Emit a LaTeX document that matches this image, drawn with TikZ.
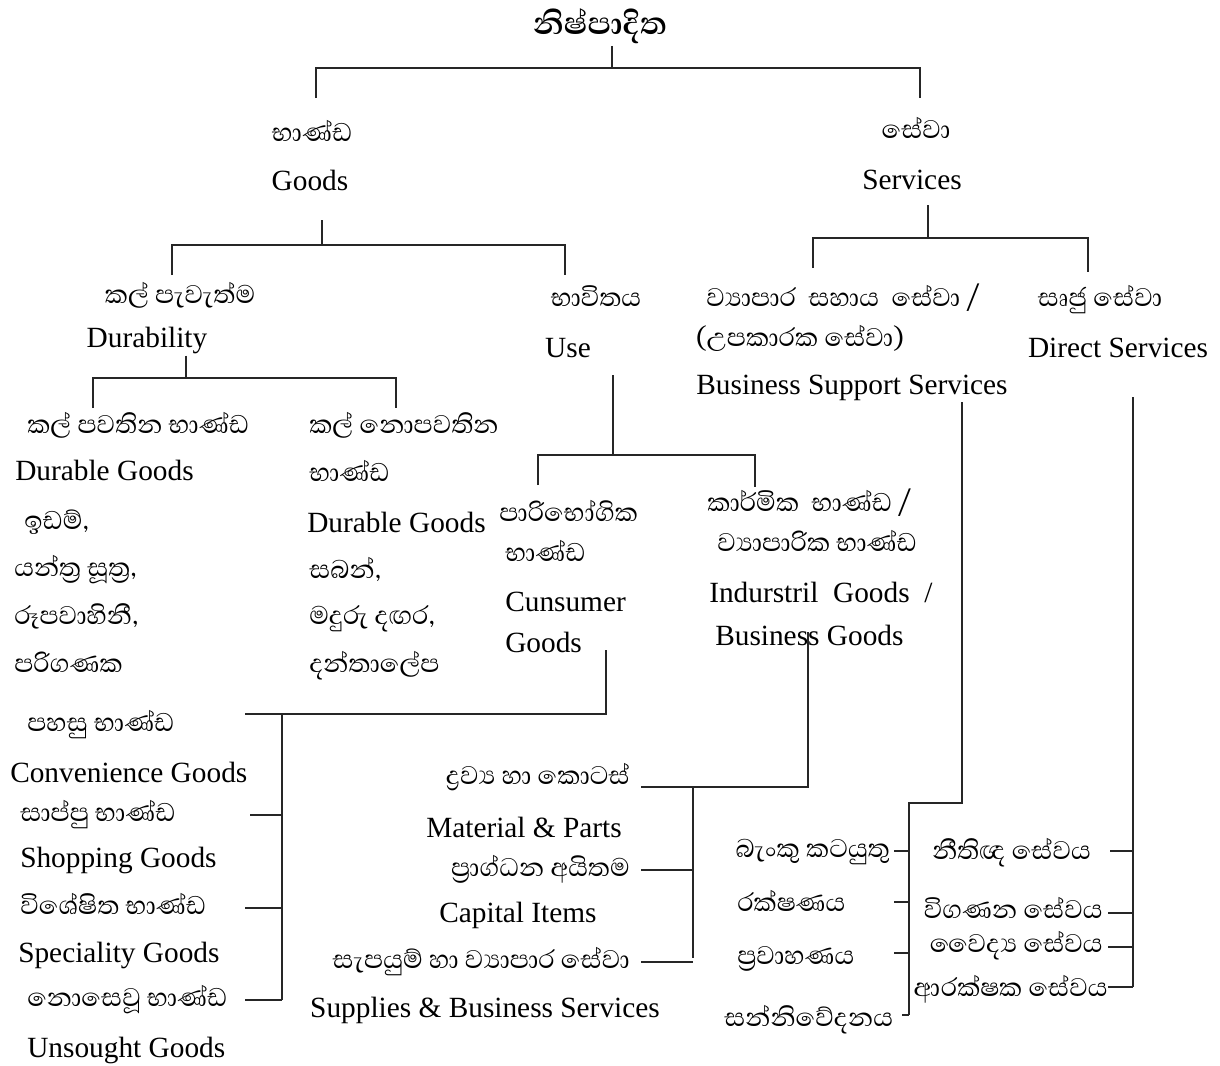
\documentclass[tikz,border=0pt]{standalone}
\usepackage{fontspec}
\setmainfont{Liberation Serif}
\newfontfamily\sinhalafont[Script=Sinhala]{Abhaya Libre}
\begin{document}
\begin{tikzpicture}[
          x=0.75pt, y=-0.75pt,
          every node/.style={inner sep=1pt},
          si/.style={font=\sinhalafont\fontsize{24.5}{28}\selectfont, text height=0.9em, text depth=0em},
          en/.style={font=\fontsize{22}{26}\selectfont},
          ttl/.style={font=\sinhalafont\bfseries\fontsize{30}{34}\selectfont},
          lft/.style={anchor=west},
          rgt/.style={anchor=east},
          line width=1.4pt, draw=black!85
        ]
        \useasboundingbox (0,0) rectangle (1220,1065);

        % top level
        \node[ttl] (prod) at (600,26) {නිෂ්පාදිත};
        \node[si] (goodsSi) at (312,135) {භාණ්ඩ};
        \node[en] (goodsEn) at (310,180) {Goods};
        \node[si] (servSi) at (916,132) {සේවා};
        \node[en] (servEn) at (912,180) {Services};

        % goods
        \node[si] (durSi) at (180,297) {කල් පැවැත්ම};
        \node[en] (durEn) at (147,340) {Durability};
        \node[si] (useSi) at (596,300) {භාවිතය};
        \node[en] (useEn) at (568,348) {Use};

        % services
        \node[si] (bssSi1) at (843,300) {ව්^^^^200dයාපාර \ සහාය \ සේවා /};
        \node[si] (bssSi2) at (800,340) {(උපකාරක සේවා)};
        \node[en] (bssEn) at (852,388) {Business Support Services};
        \node[si] (dirSi) at (1100,300) {සෘජු සේවා};
        \node[en] (dirEn) at (1118,348) {Direct Services};

        % durable
        \node[si,lft] (durgSi) at (25,427) {කල් පවතින භාණ්ඩ};
        \node[en,lft] (durgEn) at (13,470) {Durable Goods};
        \node[si,lft] (ex1) at (22,523) {ඉඩම්,};
        \node[si,lft] (ex2) at (12,570) {යන්ත්^^^^200dර සූත්^^^^200dර,};
        \node[si,lft] (ex3) at (12,618) {රූපවාහිනී,};
        \node[si,lft] (ex4) at (12,666) {පරිගණක};

        % non durable
        \node[si,lft] (nonSi1) at (307,427) {කල් නොපවතින};
        \node[si,lft] (nonSi2) at (307,475) {භාණ්ඩ};
        \node[en,lft] (nonEn) at (305,522) {Durable Goods};
        \node[si,lft] (ex5) at (307,572) {සබන්,};
        \node[si,lft] (ex6) at (307,618) {මදුරු දඟර,};
        \node[si,lft] (ex7) at (307,666) {දන්තාලේප};

        % use
        \node[si,lft] (conSi1) at (497,515) {පාරිභෝගික};
        \node[si,lft] (conSi2) at (503,555) {භාණ්ඩ};
        \node[en,lft] (conEn1) at (503,602) {Cunsumer};
        \node[en,lft] (conEn2) at (503,642) {Goods};
        \node[si,lft] (indSi1) at (705,505) {කාර්මික \ භාණ්ඩ /};
        \node[si,lft] (indSi2) at (715,545) {ව්^^^^200dයාපාරික භාණ්ඩ};
        \node[en,lft] (indEn1) at (707,592) {Indurstril \ Goods \ /};
        \node[en,lft] (indEn2) at (713,635) {Business Goods};

        % consumer goods
        \node[si,lft] (cnvSi) at (25,725) {පහසු භාණ්ඩ};
        \node[en,lft] (cnvEn) at (8,772) {Convenience Goods};
        \node[si,lft] (shpSi) at (18,815) {සාප්පු භාණ්ඩ};
        \node[en,lft] (shpEn) at (18,860) {Shopping Goods};
        \node[si,lft] (spcSi) at (18,908) {විශේෂිත භාණ්ඩ};
        \node[en,lft] (spcEn) at (16,955) {Speciality Goods};
        \node[si,lft] (unsSi) at (25,1000) {නොසෙවූ භාණ්ඩ};
        \node[en,lft] (unsEn) at (25,1050) {Unsought Goods};

        % business goods
        \node[si,rgt] (matSi) at (632,778) {ද්^^^^200dරව්^^^^200dය හා කොටස්};
        \node[en] (matEn) at (524,827) {Material \& Parts};
        \node[si,rgt] (capSi) at (632,870) {ප්^^^^200dරාග්ධන අයිතම};
        \node[en] (capEn) at (518,915) {Capital Items};
        \node[si,rgt] (supSi) at (632,962) {සැපයුම් හා ව්^^^^200dයාපාර සේවා};
        \node[en] (supEn) at (485,1010) {Supplies \& Business Services};

        % support services
        \node[si,rgt] (bank) at (892,851) {බැංකු කටයුතු};
        \node[si,lft] (insu) at (735,905) {රක්ෂණය};
        \node[si,lft] (trans) at (735,958) {ප්^^^^200dරවාහණය};
        \node[si,lft] (comm) at (722,1020) {සන්නිවේදනය};

        % direct services
        \node[si,lft] (legal) at (930,853) {නීතිඥ සේවය};
        \node[si,rgt] (audit) at (1105,912) {විගණන සේවය};
        \node[si,rgt] (medic) at (1105,946) {වෛද්^^^^200dය සේවය};
        \node[si,rgt] (secu) at (1110,990) {ආරක්ෂක සේවය};

        % brackets
        \coordinate (j0) at (612,68);
        \coordinate (g0) at (316,98);
        \coordinate (s0) at (920,98);
        \draw (prod.south -| j0) -- (j0);
        \draw (g0) |- (j0) -| (s0);

        \coordinate (j1t) at (322,220);
        \coordinate (j1) at (322,245);
        \coordinate (d0) at (172,275);
        \coordinate (u0) at (565,275);
        \draw (j1t) -- (j1);
        \draw (d0) |- (j1) -| (u0);

        \coordinate (j2t) at (928,205);
        \coordinate (j2) at (928,238);
        \coordinate (b0) at (813,268);
        \coordinate (r0) at (1088,272);
        \draw (j2t) -- (j2);
        \draw (b0) |- (j2) -| (r0);

        \coordinate (j3) at (186,378);
        \coordinate (dg0) at (93,408);
        \coordinate (nd0) at (396,408);
        \draw (durEn.south -| j3) -- (j3);
        \draw (dg0) |- (j3) -| (nd0);

        \coordinate (j4t) at (613,375);
        \coordinate (j4) at (613,455);
        \coordinate (cg0) at (538,485);
        \coordinate (ig0) at (755,487);
        \draw (j4t) -- (j4);
        \draw (cg0) |- (j4) -| (ig0);

        % consumer goods bus
        \coordinate (c1) at (606,650);
        \coordinate (c2) at (245,714);
        \coordinate (cb) at (282,714);
        \coordinate (cb2) at (282,1000);
        \draw (c1) |- (c2);
        \draw (cb) -- (cb2);
        \foreach \y/\xs in {815/250, 908/245, 1000/245}
          \draw (\xs,\y) -- (cb |- 0,\y);

        % business goods bus
        \coordinate (i1) at (808,632);
        \coordinate (i2) at (641,787);
        \coordinate (ib) at (693,787);
        \coordinate (ib2) at (693,958);
        \draw (i1) |- (i2);
        \draw (ib) -- (ib2);
        \draw (capSi.east -| i2) -- (capSi.east -| ib);
        \draw (supSi.east -| i2) -- (supSi.east -| ib);

        % support services bus
        \coordinate (p1) at (962,402);
        \coordinate (p2) at (909,803);
        \coordinate (p3) at (909,1015);
        \draw (p1) |- (p2) -- (p3);
        \foreach \y/\xs in {851/894, 902/894, 953/894, 1015/902}
          \draw (\xs,\y) -- (p2 |- 0,\y);

        % direct services bus
        \coordinate (q1) at (1133,397);
        \coordinate (q2) at (1133,987);
        \draw (q1) -- (q2);
        \foreach \y/\xs in {851/1110, 913/1108, 947/1108, 987/1108}
          \draw (\xs,\y) -- (q1 |- 0,\y);
\end{tikzpicture}
\end{document}
